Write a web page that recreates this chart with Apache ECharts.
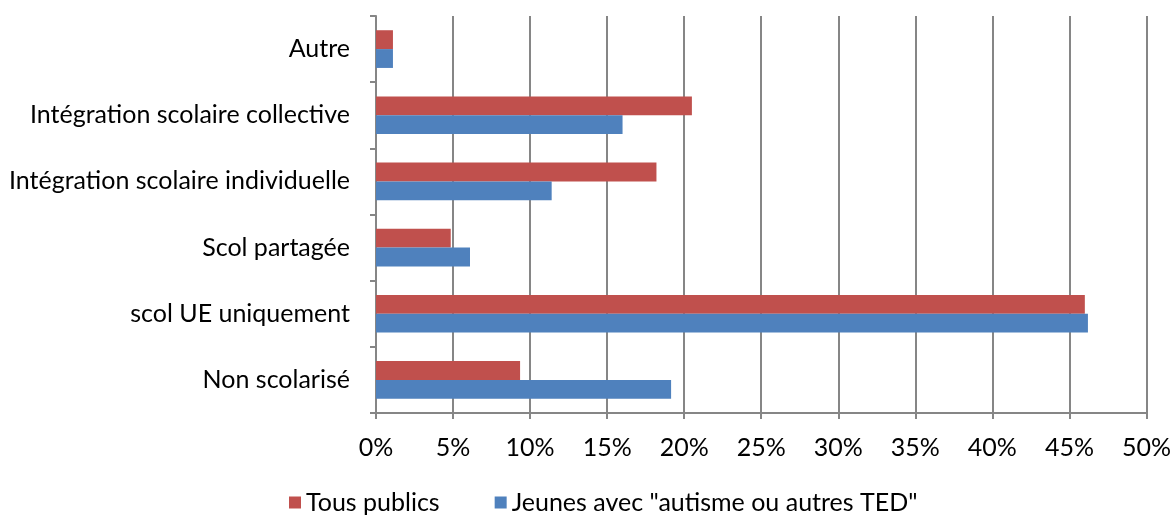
<!DOCTYPE html>
<html>
<head>
<meta charset="utf-8">
<script src="https://cdn.jsdelivr.net/npm/echarts@6/dist/echarts.min.js"></script>
<style>html,body{margin:0;padding:0;background:#fff}#c{width:1174px;height:515px}</style>
</head>
<body>
<div id="c"></div>
<script>
const categories = ['Non scolarisé', 'scol UE uniquement', 'Scol partagée', 'Intégration scolaire individuelle', 'Intégration scolaire collective', 'Autre'];
const tousPublics = [9.35, 46.0, 4.85, 18.2, 20.5, 1.1];
const jeunesTED = [19.15, 46.2, 6.1, 11.4, 16.0, 1.1];
const seriesNames = ['Tous publics', 'Jeunes avec "autisme ou autres TED"'];

const FONT = 'Lato, "Open Sans", sans-serif';
const chart = echarts.init(document.getElementById('c'), null, {renderer: 'canvas'});
chart.setOption({
  animation: false,
  textStyle: {fontFamily: FONT},
  grid: {left: 376, right: 24, top: 16, bottom: 102, containLabel: false},
  legend: {
    data: seriesNames,
    top: 490,
    left: 289,
    padding: 0,
    itemWidth: 12, itemHeight: 12, itemGap: 55,
    icon: 'rect',
    textStyle: {fontSize: 25, color: '#000', fontFamily: FONT}
  },
  xAxis: {
    type: 'value', min: 0, max: 50, interval: 5,
    axisLabel: {formatter: '{value}%', fontSize: 25, color: '#000', margin: 22, fontFamily: FONT},
    axisLine: {show: true, lineStyle: {color: '#868686', width: 2}},
    axisTick: {show: true, length: 6, lineStyle: {color: '#868686', width: 2}},
    splitLine: {show: true, lineStyle: {color: '#868686', width: 2}}
  },
  yAxis: {
    type: 'category', data: categories,
    axisLabel: {fontSize: 25, color: '#000', margin: 26, fontFamily: FONT},
    axisLine: {show: true, lineStyle: {color: '#868686', width: 2}},
    axisTick: {show: true, length: 6, lineStyle: {color: '#868686', width: 2}},
    splitLine: {show: false}
  },
  series: [
    {name: seriesNames[0], type: 'bar', data: tousPublics, barGap: '0%', barCategoryGap: '43%',
     itemStyle: {color: '#C0504D'}},
    {name: seriesNames[1], type: 'bar', data: jeunesTED, barGap: '0%', barCategoryGap: '43%',
     itemStyle: {color: '#4F81BD'}}
  ]
});
</script>
</body>
</html>
